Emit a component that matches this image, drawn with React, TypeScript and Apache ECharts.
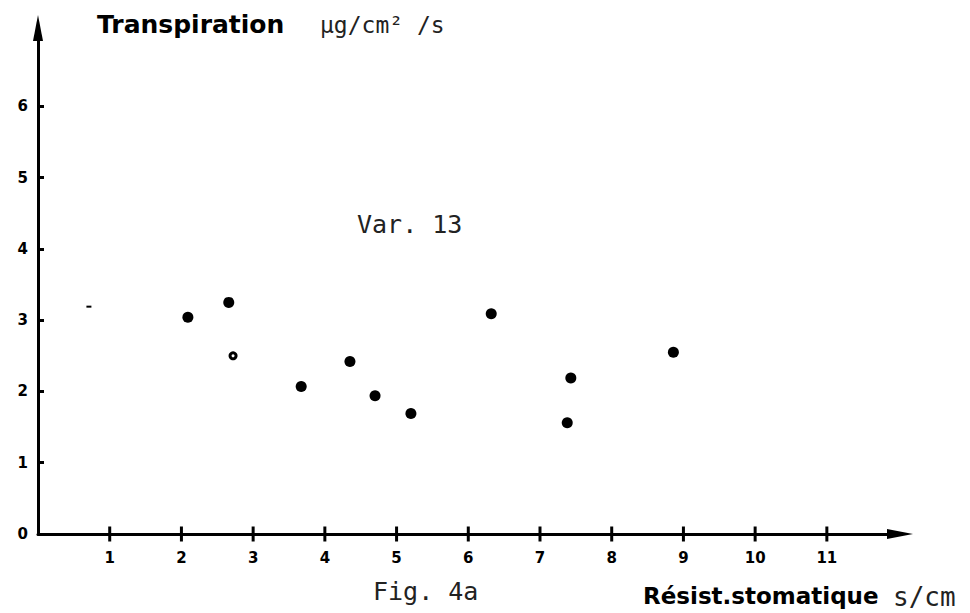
import React, { useEffect, useRef } from "react";
import * as echarts from "echarts";

// ---- data ----
const xTickValues = [1, 2, 3, 4, 5, 6, 7, 8, 9, 10, 11];
const yTickValues = [1, 2, 3, 4, 5, 6];
const yLabelValues = [0, 1, 2, 3, 4, 5, 6];

// stomatal resistance (s/cm) and transpiration (µg/cm²/s), filled dots
const resistance = [2.09, 2.66, 3.67, 4.35, 4.70, 5.20, 6.32, 7.43, 7.38, 8.86];
const transpiration = [3.04, 3.25, 2.07, 2.42, 1.94, 1.69, 3.09, 2.19, 1.56, 2.55];

// one ring-shaped dot
const ringResistance = [2.72];
const ringTranspiration = [2.5];

// one faint dash-like mark
const dashResistance = [0.71];
const dashTranspiration = [3.19];

const X_MAX = 12.02;
const Y_MAX = 7.1;

const toPairs = (xs: number[], ys: number[]) => xs.map((x, i) => [x, ys[i]]);

const tickFont = {
  fontFamily: "DejaVu Sans",
  fontWeight: "bold" as const,
  fontSize: 15,
  color: "#000",
};

export default function App() {
  const ref = useRef<HTMLDivElement>(null);

  useEffect(() => {
    if (!ref.current) return;
    const chart = echarts.init(ref.current, null, { renderer: "svg" });

    const axisLine = {
      show: true,
      lineStyle: { color: "#000", width: 3 },
      symbol: ["none", "triangle"],
      symbolSize: [10, 26],
    };

    chart.setOption({
      animation: false,
      backgroundColor: "#fff",
      grid: { left: 38, right: 70, top: 28, bottom: 79, containLabel: false },
      xAxis: {
        type: "value",
        min: 0,
        max: X_MAX,
        axisLine,
        axisTick: { show: false },
        axisLabel: { ...tickFont, customValues: xTickValues, margin: 16 },
        splitLine: { show: false },
      },
      yAxis: {
        type: "value",
        min: 0,
        max: Y_MAX,
        axisLine,
        axisTick: {
          show: true,
          inside: true,
          customValues: yTickValues,
          length: 6,
          lineStyle: { color: "#000", width: 3 },
        },
        axisLabel: { ...tickFont, customValues: yLabelValues, margin: 10 },
        splitLine: { show: false },
      },
      series: [
        {
          // x-axis tick marks crossing the axis line
          type: "scatter",
          symbol: "rect",
          symbolSize: [3, 15],
          silent: true,
          itemStyle: { color: "#000", opacity: 1 },
          data: xTickValues.map((v) => [v, 0]),
          z: 5,
        },
        {
          type: "scatter",
          symbol: "circle",
          symbolSize: 11,
          itemStyle: { color: "#000", opacity: 1 },
          data: toPairs(resistance, transpiration),
        },
        {
          type: "scatter",
          symbol: "circle",
          symbolSize: 9,
          itemStyle: { color: "#000", opacity: 1 },
          data: toPairs(ringResistance, ringTranspiration),
        },
        {
          type: "scatter",
          symbol: "circle",
          symbolSize: 3,
          itemStyle: { color: "#fff", opacity: 1 },
          data: toPairs(ringResistance, ringTranspiration),
        },
        {
          type: "scatter",
          symbol: "rect",
          symbolSize: [5, 2],
          itemStyle: { color: "#000", opacity: 1 },
          data: toPairs(dashResistance, dashTranspiration),
        },
      ],
      graphic: [
        {
          type: "text",
          x: 97,
          y: 24,
          style: {
            text: "Transpiration",
            fontFamily: "DejaVu Sans",
            fontWeight: "bold",
            fontSize: 25,
            fill: "#000",
            verticalAlign: "middle",
          },
        },
        {
          type: "text",
          x: 320,
          y: 25,
          style: {
            text: "µg/cm² /s",
            fontFamily: "DejaVu Sans Mono",
            fontSize: 23,
            fill: "#222",
            verticalAlign: "middle",
          },
        },
        {
          type: "text",
          x: 357,
          y: 224,
          style: {
            text: "Var. 13",
            fontFamily: "DejaVu Sans Mono",
            fontSize: 25,
            fill: "#222",
            verticalAlign: "middle",
          },
        },
        {
          type: "text",
          x: 373,
          y: 591,
          style: {
            text: "Fig. 4a",
            fontFamily: "DejaVu Sans Mono",
            fontSize: 25,
            fill: "#222",
            verticalAlign: "middle",
          },
        },
        {
          type: "text",
          x: 643,
          y: 596,
          style: {
            text: "Résist.stomatique",
            fontFamily: "DejaVu Sans",
            fontWeight: "bold",
            fontSize: 23,
            fill: "#000",
            verticalAlign: "middle",
          },
        },
        {
          type: "text",
          x: 893,
          y: 597,
          style: {
            text: "s/cm",
            fontFamily: "DejaVu Sans Mono",
            fontSize: 26,
            fill: "#222",
            verticalAlign: "middle",
          },
        },
      ],
    });

    return () => chart.dispose();
  }, []);

  return (
    <div
      ref={ref}
      style={{ position: "fixed", left: 0, top: 0, width: 970, height: 613, background: "#fff" }}
    />
  );
}
